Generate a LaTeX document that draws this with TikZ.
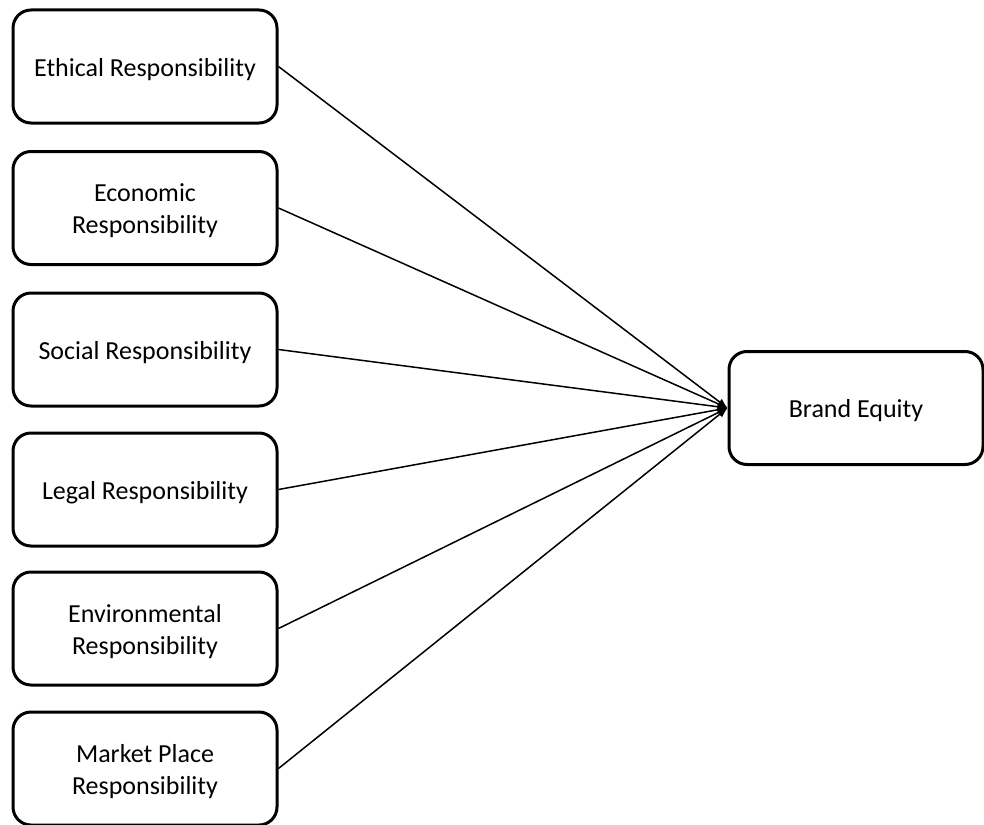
\documentclass[tikz,border=0pt]{standalone}
\usepackage{fontspec}
\setmainfont{Carlito}
\usetikzlibrary{arrows.meta}
\begin{document}
\begin{tikzpicture}[x=1pt,y=-1pt,
  factor/.style={draw=black,line width=3pt,rounded corners=18pt,
    minimum width=264pt,minimum height=113pt,inner sep=0pt},
  caption/.style={align=center,font=\fontsize{26}{32}\selectfont,yshift=-3pt},
  link/.style={line width=1.5pt,-{Latex[length=10pt,width=8pt]}}]
\useasboundingbox (0,0) rectangle (984,824);
\node[factor,label={[caption]center:Ethical Responsibility}] (eth) at (145,66.5) {};
\node[factor,label={[caption]center:Economic\\Responsibility}] (eco) at (145,208) {};
\node[factor,label={[caption]center:Social Responsibility}] (soc) at (145,349.5) {};
\node[factor,label={[caption]center:Legal Responsibility}] (leg) at (145,489.5) {};
\node[factor,label={[caption]center:Environmental\\Responsibility}] (env) at (145,628.5) {};
\node[factor,label={[caption]center:Market Place\\Responsibility}] (mkt) at (145,768.5) {};
\node[factor,minimum width=254pt,label={[caption]center:Brand Equity}] (be) at (856,408) {};
\foreach \n in {eth,eco,soc,leg,env,mkt}
  \draw[link] (\n.east) -- (be.west);
\end{tikzpicture}
\end{document}
